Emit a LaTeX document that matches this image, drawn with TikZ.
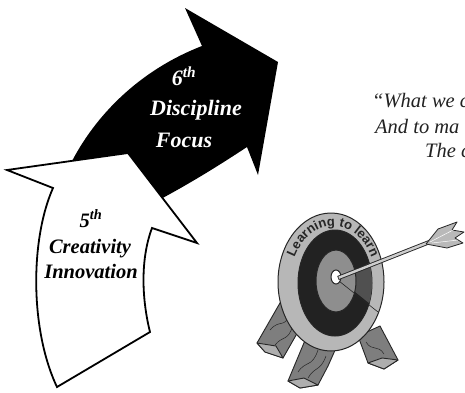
\documentclass[tikz,border=0pt]{standalone}
\usepackage{fontspec}
\setmainfont{Liberation Serif}
\setsansfont{Liberation Sans}
\usetikzlibrary{decorations.text}
\definecolor{RimGray}{HTML}{B7B7B7}
\definecolor{RingDark}{HTML}{222222}
\definecolor{RingMid}{HTML}{8E8E8E}
\definecolor{RingGlow}{HTML}{505050}
\definecolor{WoodFront}{HTML}{7E7E7E}
\definecolor{WoodSide}{HTML}{AEAEAE}
\definecolor{InkGray}{HTML}{262626}
\definecolor{QuoteInk}{HTML}{222222}

\begin{document}
\begin{tikzpicture}[x=1pt,y=-1pt]
  \tikzset{
    bigword/.style={anchor=base,inner sep=0pt,font=\fontsize{22}{22}\selectfont\bfseries\itshape},
    smallword/.style={bigword,font=\fontsize{20.5}{20.5}\selectfont\bfseries\itshape},
    quoteline/.style={anchor=base west,inner sep=0pt,text=QuoteInk,font=\fontsize{20.5}{20.5}\selectfont\itshape},
    ring/.style={draw=InkGray,line width=1pt},
    leg/.style={fill=WoodFront,draw=InkGray,line width=0.9pt,line join=round},
    grain/.style={draw=InkGray,line width=0.5pt}
  }
  \useasboundingbox[fill=white] (0,0) rectangle (465,392);

  % black arrow (6th), its foot hides under the white one
  \fill[black] (70,165) .. controls (95,115) and (140,70) .. (202,46) -- (185,8) -- (278,62)
    -- (258,175) -- (247,147) .. controls (215,168) and (180,190) .. (130,215) -- cycle;
  \node[bigword,text=white] (sixth) at (184,85) {6\textsuperscript{th}};
  \node[bigword,text=white] (discipline) at (196,115) {Discipline};
  \node[bigword,text=white] (focus) at (184,147) {Focus};

  % white arrow (5th)
  \draw[fill=white,line width=1.8pt,line join=miter] (7,170) -- (128,153) -- (197,243) -- (152,228)
    .. controls (140,260) and (142,300) .. (150,332) -- (57,387)
    .. controls (30,330) and (30,240) .. (53,188) -- cycle;
  \node[smallword] (fifth) at (91,227) {5\textsuperscript{th}};
  \node[smallword] (creativity) at (90,253) {Creativity};
  \node[smallword] (innovation) at (91,278) {Innovation};

  % quote
  \node[quoteline] (q1) at (372,107) {“What we c};
  \node[quoteline] (q2) at (375,133) {And to ma};
  \node[quoteline] (q3) at (425,157) {The c};

  % stand legs
  \draw[leg] (284,296) -- (257,343) -- (265,352) -- (283,358) -- (299,330) -- (301,310) -- cycle;
  \draw[leg,fill=WoodSide] (257,343) -- (265,352) -- (283,358) -- (276,346) -- cycle;
  \draw[grain] (270,330) .. controls (280,318) and (285,330) .. (290,312);
  \draw[grain] (275,345) .. controls (283,335) and (288,342) .. (293,325);
  \draw[leg] (306,338) -- (288,381) -- (300,388) -- (318,385) -- (328,366) -- (336,348) -- cycle;
  \draw[leg,fill=WoodSide] (288,381) -- (300,388) -- (318,385) -- (304,378) -- cycle;
  \draw[grain] (298,372) .. controls (306,360) and (312,368) .. (318,350);
  \draw[grain] (308,378) .. controls (315,366) and (320,372) .. (326,356);
  \draw[leg] (358,336) -- (368,363) -- (384,369) -- (398,360) -- (380,326) -- cycle;
  \draw[leg,fill=WoodSide] (368,363) -- (384,369) -- (398,360) -- (382,358) -- cycle;
  \draw[grain] (366,342) .. controls (372,352) and (378,344) .. (384,354);

  % target face
  \draw[ring,fill=RimGray] (331,282) ellipse [x radius=53, y radius=69];
  \draw[ring,fill=RingDark] (335,283) ellipse [x radius=37, y radius=53];
  \begin{scope}
    \clip (335,283) ellipse [x radius=37, y radius=53];
    \fill[RingGlow] (338,278) -- (380,258) -- (380,312) -- cycle;
  \end{scope}
  \draw[ring,fill=RingMid] (336,281) ellipse [x radius=20, y radius=31];
  \draw[ring,fill=white] (336,277) ellipse [x radius=5, y radius=7];
  \draw[InkGray,line width=0.6pt] (339,281) -- (378,312);
  \path[decorate,decoration={text along path,text align=center,
      text={|\sffamily\bfseries\fontsize{13}{13}\selectfont\color{InkGray}|Learning to learn}}]
    (333,283) ++(195:43 and 57) arc[start angle=195, end angle=345, x radius=43, y radius=57];

  % dart
  \coordinate (bull) at (338,278);
  \coordinate (nock) at (432,241);
  \draw[InkGray,line width=4.2pt] (bull) -- (nock);
  \draw[RimGray!70!white,line width=2.4pt,shorten <=0.8pt] (bull) -- (nock);
  \draw[fill=gray!55,draw=InkGray,line width=0.8pt,line join=round] (426,244) -- (438,229) -- (457,222)
    -- (452,230) -- (464,232) -- (455,238) -- (463,243) -- (447,248) -- cycle;
  \draw[grain,draw=white] (430,242) -- (455,229);
  \draw[grain,draw=white] (432,243) -- (458,240);
\end{tikzpicture}
\end{document}
